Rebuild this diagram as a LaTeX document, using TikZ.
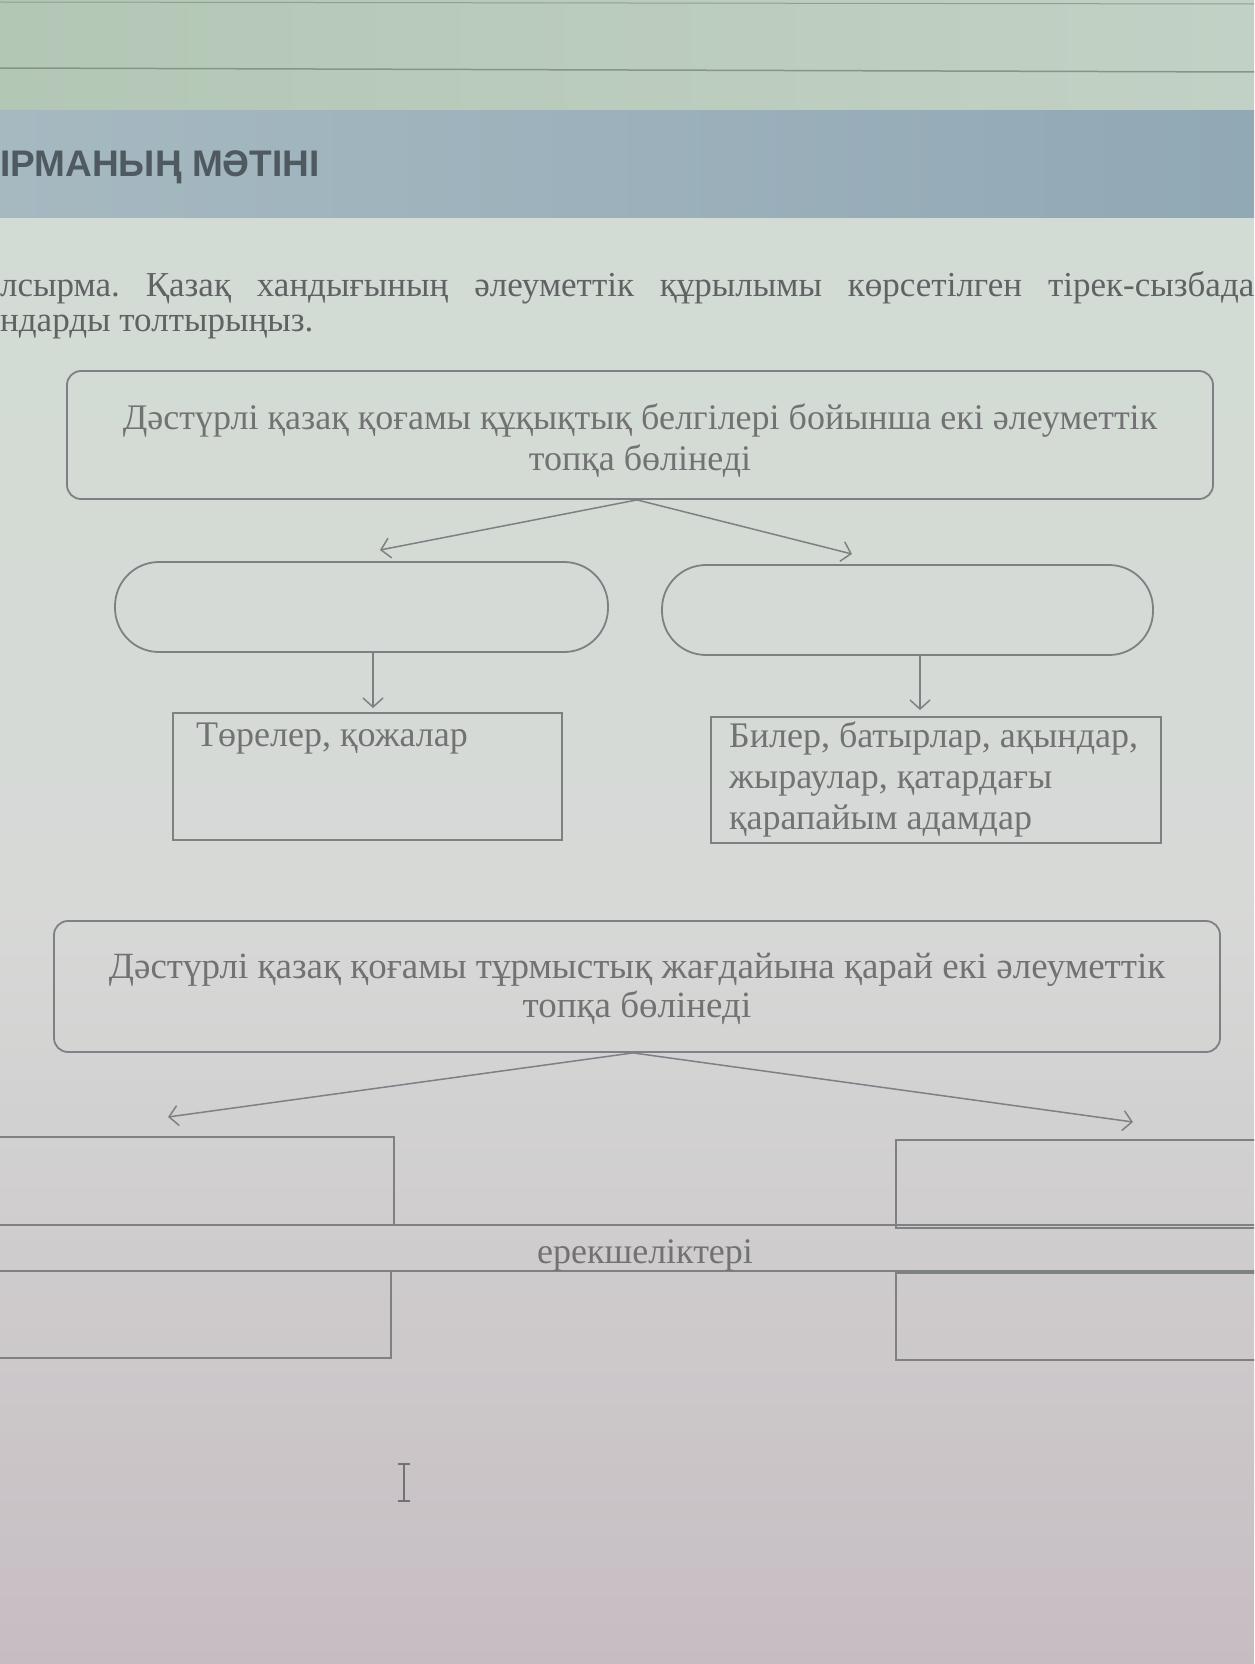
\documentclass[tikz,border=0pt]{standalone}
\usepackage{fontspec}
\setmainfont{Liberation Serif}
\newfontfamily\hdrfont{Liberation Sans}
\usetikzlibrary{arrows.meta}
\definecolor{linec}{HTML}{7E8084}
\definecolor{txtc}{HTML}{727274}
\definecolor{instc}{HTML}{606264}
\definecolor{hdrc}{HTML}{4F5A60}
\definecolor{bgtop}{HTML}{D2DCD4}
\definecolor{bgmid}{HTML}{D7D9D7}
\definecolor{bgbot}{HTML}{C6BDC2}
\definecolor{stripL}{HTML}{B3C7B5}
\definecolor{stripR}{HTML}{C2D1C5}
\definecolor{bandL}{HTML}{A6B9C1}
\definecolor{bandR}{HTML}{91A8B5}
\tikzset{
  boxtxt/.style={text=txtc, font=\fontsize{36}{41}\selectfont, inner sep=0pt},
  insttxt/.style={text=instc, font=\fontsize{35}{35}\selectfont, inner sep=0pt},
  rbox/.style={draw=linec, line width=1.8pt, rounded corners=14pt, inner sep=0pt},
  pill/.style={draw=linec, line width=1.8pt, rounded corners=44pt, inner sep=0pt},
  sbox/.style={draw=linec, line width=1.8pt, inner sep=0pt},
  conn/.style={draw=linec, line width=1.5pt, -{Straight Barb[length=9pt,width=20pt,line width=1.5pt]}}
}
\begin{document}
\frenchspacing
\begin{tikzpicture}[x=1pt,y=-1pt]
\useasboundingbox (0,0) rectangle (1254,1664);
\clip (0,0) rectangle (1254,1664);
% backgrounds
\fill[top color=bgtop, bottom color=bgmid] (0,217) rectangle (1254,900);
\fill[top color=bgmid, bottom color=bgbot] (0,900) rectangle (1254,1664);
\fill[left color=stripL, right color=stripR] (0,0) rectangle (1254,111);
\draw[color=stripL!75!black, line width=1.5pt] (0,68) -- (1254,72);
\draw[color=stripL!80!black, line width=1pt] (0,2) -- (1254,4);
\fill[left color=bandL, right color=bandR] (0,111) rectangle (1254,217);
% header and instruction
\node[anchor=base west, text=hdrc, inner sep=0pt, font=\hdrfont\bfseries\fontsize{37}{40}\selectfont] (hdr) at (0,177) {ІРМАНЫҢ МӘТІНІ};
\node[anchor=base west, insttxt] (inst1) at (0,296) {\makebox[1254pt][s]{лсырма. Қазақ хандығының әлеуметтік құрылымы көрсетілген тірек-сызбада}};
\node[anchor=base west, insttxt] (inst2) at (0,331) {ндарды толтырыңыз.};
% top block
\node[rbox, minimum width=1146pt, minimum height=128pt] (top1) at (640,435) {};
\node[boxtxt, align=center] (top1t) at (640,441) {Дәстүрлі қазақ қоғамы құқықтық белгілері бойынша екі әлеуметтік\\топқа бөлінеді};
\coordinate (a1) at (380,550);
\coordinate (a2) at (852,554);
\draw[conn] (top1.south) ++(-3,0) coordinate (o1) (o1) -- (a1);
\draw[conn] (o1) -- (a2);
\node[pill, minimum width=493pt, minimum height=90pt] (ovL) at (361.5,607) {};
\node[pill, minimum width=491pt, minimum height=90pt] (ovR) at (907.5,610) {};
\node[sbox, minimum width=389pt, minimum height=127pt] (bxL) at (367.5,776.5) {};
\node[sbox, minimum width=450pt, minimum height=126pt] (bxR) at (936,780) {};
\draw[conn] (ovL.south -| 373,0) -- (373,708) coordinate (dL);
\draw[conn] (ovR.south -| 920,0) -- (920,710) coordinate (dR);
\node[boxtxt, anchor=base west] (bxLt) at (196,746) {Төрелер, қожалар};
\node[boxtxt, anchor=north west, align=left] (bxRt) at (729,722) {Билер, батырлар, ақындар,\\жыраулар, қатардағы\\қарапайым адамдар};
% second block
\node[rbox, minimum width=1166pt, minimum height=131pt] (top2) at (637,986.5) {};
\node[boxtxt, align=center, font=\fontsize{37}{39}\selectfont] (top2t) at (637,989) {Дәстүрлі қазақ қоғамы тұрмыстық жағдайына қарай екі әлеуметтік\\топқа бөлінеді};
\coordinate (b1) at (168,1117);
\coordinate (b2) at (1133,1122);
\draw[conn] (top2.south) ++(-4,0) coordinate (o2) (o2) -- (b1);
\draw[conn] (o2) -- (b2);
% bottom grid
\node[sbox, minimum width=1270pt, minimum height=46pt] (band) at (627,1248) {};
\node[boxtxt, anchor=base] (bandt) at (645,1263) {ерекшеліктері};
\node[sbox, minimum width=404pt, minimum height=88pt] (gLT) at (192,1181) {};
\node[sbox, minimum width=370pt, minimum height=88pt] (gRT) at (1081,1184) {};
\node[sbox, minimum width=401pt, minimum height=87pt] (gLB) at (190.5,1314.5) {};
\node[sbox, minimum width=370pt, minimum height=87pt] (gRB) at (1081,1316.5) {};
% text cursor
\draw[color=txtc, line width=2pt] (404,1465) -- (404,1500);
\draw[color=txtc, line width=1.5pt] (398,1464) -- (410,1464) (398,1501) -- (410,1501);
\end{tikzpicture}
\end{document}
